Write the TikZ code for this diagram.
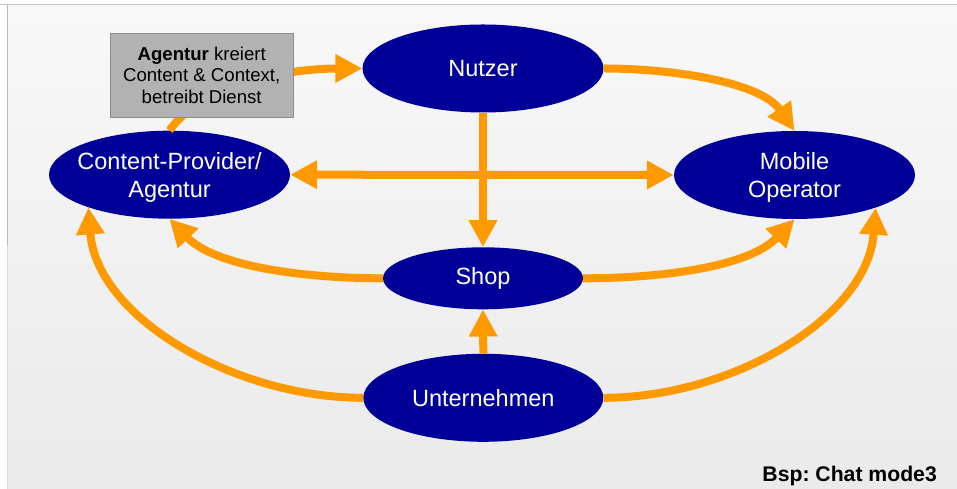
\documentclass[tikz,border=0pt]{standalone}
\usepackage{fontspec}
\setmainfont{Liberation Sans}
\frenchspacing
\usetikzlibrary{shapes.geometric,arrows.meta}
\definecolor{navy}{RGB}{0,0,153}
\definecolor{flow}{RGB}{255,153,0}
\definecolor{boxgray}{RGB}{178,178,178}
\definecolor{boxedge}{RGB}{140,140,140}
\definecolor{bgtop}{RGB}{248,248,248}
\definecolor{bgbottom}{RGB}{234,234,234}
\begin{document}
\begin{tikzpicture}[x=1pt,y=1pt,
  >={Triangle[length=27pt,width=27pt]},
  party/.style={ellipse, fill=navy, text=white, inner sep=0pt, align=center,
    font=\fontsize{23.5}{28}\selectfont, minimum width=241pt, minimum height=88pt},
  twoline/.style={text depth=0pt},
  flowline/.style={draw=flow, line width=8pt, ->},
  twoway/.style={draw=flow, line width=8pt, <->},
  notebox/.style={draw=boxedge, fill=boxgray, line width=1pt, inner sep=0pt,
    minimum width=183pt, minimum height=84pt, align=center,
    font=\fontsize{18.6}{21.7}\selectfont},
]
\useasboundingbox (0,0) rectangle (957,489);
% slide background
\fill[white] (0,0) rectangle (957,489);
\shade[top color=bgtop, bottom color=bgbottom] (7,0) rectangle (957,484);
\draw[black!22, line width=1pt] (0,484) -- (957,484);
\draw[black!28, line width=1pt] (7,484) -- (7,244);
\draw[black!14, line width=1pt] (7,244) -- (7,0);

% parties
\node[party] (nutzer) at (483,420.5) {Nutzer};
\node[party, twoline, inner xsep=-15pt] (cp) at (169.5,314.3) {Content-Provider/\\Agentur};
\node[party, twoline] (mobile) at (794.5,314) {Mobile\\Operator};
\node[party, minimum width=200pt, minimum height=62pt] (shop) at (483,210.7) {Shop};
\node[party, minimum width=240pt] (untern) at (483.3,91.2) {Unternehmen};

% flows
\draw[flowline] (cp.north) .. controls +(34,49) and +(-67.5,0) .. (nutzer.west);
\draw[flowline] (nutzer.east) .. controls +(67.5,0) and +(-34,49) .. (mobile.north);
\draw[flowline] (nutzer.south) -- (shop.north);
\draw[twoway] (cp.east) -- (mobile.west);
\draw[flowline] (shop.west) .. controls +(-77,0) and +(46,-48) .. (cp.south);
\draw[flowline] (shop.east) .. controls +(77,0) and +(-46,-48) .. (mobile.south);
\draw[flowline] (untern.west) .. controls +(-128,0) and +(8,-110) .. (cp.-158);
\draw[flowline] (untern.east) .. controls +(128,0) and +(-8,-110) .. (mobile.-22);
\draw[flowline] (untern.north) -- (shop.south);

% note on the agency
\node[notebox] (agency) at (201.7,413.7) {\textbf{Agentur} kreiert\\Content \& Context,\\betreibt Dienst};

% example caption
\node[anchor=base east, inner sep=0pt, font=\fontsize{21.2}{25}\selectfont\bfseries] (caption) at (937,7.3) {Bsp: Chat mode3};
\end{tikzpicture}
\end{document}
